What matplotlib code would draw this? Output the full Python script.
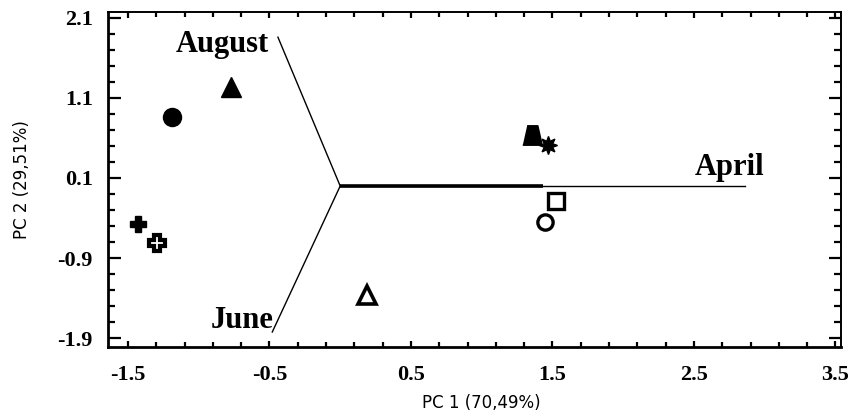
import matplotlib
matplotlib.use("Agg")
import matplotlib.pyplot as plt
from matplotlib.ticker import FixedLocator, MultipleLocator

plt.rcParams['axes.unicode_minus'] = False

# ---- PCA scores (samples) ----
filled_x = [-0.77, -1.19, -1.43]
filled_y = [1.24, 0.86, -0.475]
filled_mk = ['^', 'o', 'P']

trap_x, trap_y = [1.355], [0.635]
gear_x, gear_y = [1.47], [0.51]

open_x = [-1.295, 0.19, 1.525, 1.45]
open_y = [-0.71, -1.36, -0.19, -0.45]
open_mk = ['P', '^', 's', 'o']

# ---- loading vectors (months) ----
months = ['August', 'June', 'April']
vec_x = [-0.44, -0.48, 2.86]
vec_y = [1.86, -1.825, 0.0]
april_thick_end = 1.43

xticks = [-1.5, -0.5, 0.5, 1.5, 2.5, 3.5]
yticks = [2.1, 1.1, 0.1, -0.9, -1.9]

fig = plt.figure(figsize=(8.53, 4.19), dpi=100)
ax = fig.add_axes([0.1266, 0.1718, 0.8593, 0.7996])

# vectors
for mx, my in zip(vec_x, vec_y):
    ax.plot([0, mx], [0, my], color='k', lw=1.0)
ax.plot([0, april_thick_end], [0, 0], color='k', lw=2.6, solid_capstyle='butt')

serif = 'Liberation Serif'
ax.text(vec_x[0] - 0.06, vec_y[0] - 0.09, months[0], ha='right', va='center',
        fontsize=22, fontweight='bold', family=serif)
ax.text(vec_x[1] + 0.01, vec_y[1] + 0.15, months[1], ha='right', va='center',
        fontsize=22, fontweight='bold', family=serif)
ax.text(3.0, 0.23, months[2], ha='right', va='center',
        fontsize=22, fontweight='bold', family=serif)

# filled markers
sizes_f = {'^': 14, 'o': 13, 'P': 12}
for x, y, m in zip(filled_x, filled_y, filled_mk):
    ax.plot(x, y, marker=m, ms=sizes_f[m], color='k', mec='k', ls='none')
trap = [(-0.55, 1), (0.55, 1), (1, -1), (-1, -1)]
ax.plot(trap_x, trap_y, marker=trap, ms=14, color='k', ls='none')
ax.plot(gear_x, gear_y, marker=(8, 1, 0), ms=13, color='k', ls='none')

# open markers
sizes_o = {'P': 12, '^': 13, 's': 11, 'o': 11}
widths_o = {'P': 3.0, '^': 2.6, 's': 2.4, 'o': 2.4}
for x, y, m in zip(open_x, open_y, open_mk):
    ax.plot(x, y, marker=m, ms=sizes_o[m], mfc='white', mec='k', mew=widths_o[m], ls='none')

ax.set_xlim(-1.641, 3.539)
ax.set_ylim(-2.0125, 2.175)

ax.xaxis.set_major_locator(FixedLocator(xticks))
ax.yaxis.set_major_locator(FixedLocator(yticks))
ax.xaxis.set_minor_locator(MultipleLocator(0.2, offset=0.1))
ax.yaxis.set_minor_locator(MultipleLocator(0.2, offset=0.1))
ax.set_xticklabels([f"{v:.1f}" for v in xticks])
ax.set_yticklabels([f"{v:.1f}" for v in yticks])

ax.tick_params(axis='both', which='both', direction='in', top=True, right=True, width=1.6)
ax.tick_params(axis='y', which='major', length=9, pad=11)
ax.tick_params(axis='y', which='minor', length=5)
ax.tick_params(axis='x', which='major', length=4.5, pad=13)
ax.tick_params(axis='x', which='minor', length=3.5)
for lab in ax.get_xticklabels() + ax.get_yticklabels():
    lab.set_family(serif)
    lab.set_fontweight('bold')
    lab.set_fontsize(16)

for side in ['left', 'bottom']:
    ax.spines[side].set_linewidth(2.0)
for side in ['top', 'right']:
    ax.spines[side].set_linewidth(1.4)

ax.set_xlabel('PC 1 (70,49%)', fontsize=12)
ax.xaxis.set_label_coords(0.51, -0.14)
ax.set_ylabel('PC 2 (29,51%)', fontsize=12, labelpad=19)

fig.savefig('out.png', dpi=100)
